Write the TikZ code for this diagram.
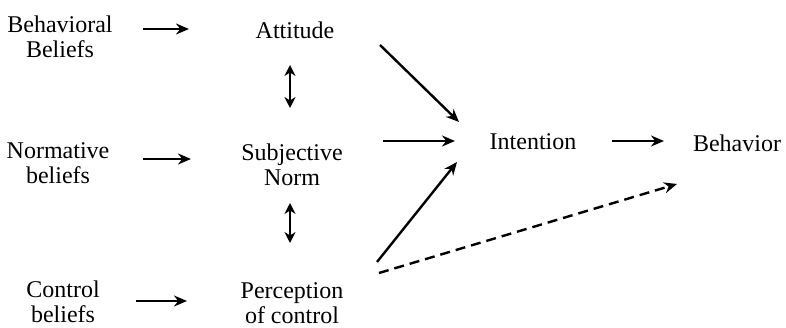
\documentclass[tikz,border=0pt]{standalone}
\usepackage{fontspec}
\setmainfont{Liberation Serif}
\usetikzlibrary{arrows.meta}
\begin{document}
\begin{tikzpicture}[x=1pt,y=-1pt,
  lbl/.style={font=\fontsize{24}{25}\selectfont, align=center, inner sep=0pt, text=black},
  arr/.style={-{Stealth[length=13pt,width=11pt]}, line width=2.4pt, black},
  darr/.style={{Stealth[length=11pt,width=11pt]}-{Stealth[length=11pt,width=11pt]}, line width=2.4pt, black},
  dsh/.style={arr, dash pattern=on 10pt off 6pt}]
\useasboundingbox (0,0) rectangle (786,328);
\node[lbl] (bb) at (60,37) {Behavioral\\Beliefs};
\node[lbl] (att) at (295,30) {Attitude};
\node[lbl] (nb) at (58,163) {Normative\\beliefs};
\node[lbl] (sn) at (292,165) {Subjective\\Norm};
\node[lbl] (cb) at (63,302) {Control\\beliefs};
\node[lbl] (pc) at (292,303) {Perception\\of control};
\node[lbl] (int) at (533,142) {Intention};
\node[lbl] (beh) at (737,143) {Behavior};
% arrow end points
\coordinate (a1s) at (143,29); \coordinate (a1e) at (189,29);
\coordinate (a2s) at (143,159); \coordinate (a2e) at (191,159);
\coordinate (a3s) at (136,301); \coordinate (a3e) at (187,301);
\coordinate (d1s) at (290,65); \coordinate (d1e) at (290,108);
\coordinate (d2s) at (290,203); \coordinate (d2e) at (290,243);
\coordinate (i1s) at (380,45); \coordinate (i1e) at (459,122);
\coordinate (i2s) at (383,141); \coordinate (i2e) at (455,141);
\coordinate (i3s) at (377,262); \coordinate (i3e) at (457,162);
\coordinate (b1s) at (612,141); \coordinate (b1e) at (664,141);
\coordinate (dss) at (379,273); \coordinate (dse) at (677,184);
\draw[arr] (a1s) -- (a1e);
\draw[arr] (a2s) -- (a2e);
\draw[arr] (a3s) -- (a3e);
\draw[darr] (d1s) -- (d1e);
\draw[darr] (d2s) -- (d2e);
\draw[arr] (i1s) -- (i1e);
\draw[arr] (i2s) -- (i2e);
\draw[arr] (i3s) -- (i3e);
\draw[arr] (b1s) -- (b1e);
\draw[dsh] (dss) -- (dse);
\end{tikzpicture}
\end{document}
